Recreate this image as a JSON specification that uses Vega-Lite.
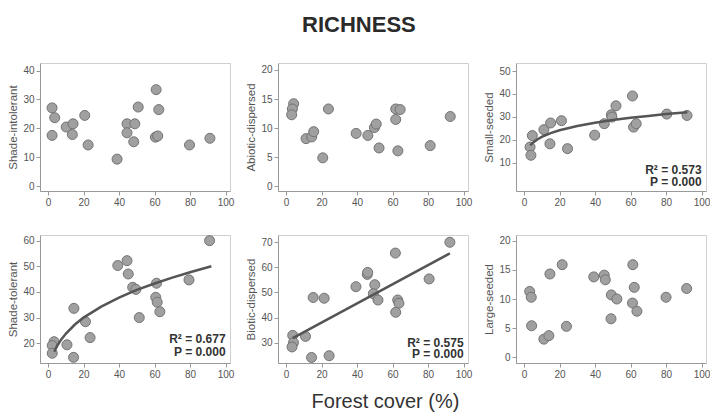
{
  "$schema": "https://vega.github.io/schema/vega-lite/v6.json",
  "padding": {"left": 7, "top": 13, "right": 2, "bottom": 2},
  "background": "white",
  "title": {"text": "RICHNESS", "fontSize": 22, "fontWeight": "bold", "color": "#2a2a2a", "font": "Liberation Sans", "anchor": "middle", "offset": 26},
  "datasets": {
    "p1": [{"cover":2.3,"richness":27.1},{"cover":3.8,"richness":23.7},{"cover":2.3,"richness":17.6},{"cover":10.3,"richness":20.5},{"cover":14.1,"richness":21.6},{"cover":13.7,"richness":17.9},{"cover":20.7,"richness":24.5},{"cover":22.6,"richness":14.3},{"cover":38.9,"richness":9.4},{"cover":44.5,"richness":21.6},{"cover":44.5,"richness":18.5},{"cover":48.9,"richness":21.6},{"cover":48.3,"richness":15.4},{"cover":50.8,"richness":27.4},{"cover":60.9,"richness":33.4},{"cover":62.4,"richness":26.5},{"cover":60.5,"richness":17.0},{"cover":61.8,"richness":17.4},{"cover":79.7,"richness":14.3},{"cover":91.2,"richness":16.6}],
    "p2": [{"cover":4.3,"richness":14.2},{"cover":3.6,"richness":13.3},{"cover":3.2,"richness":12.3},{"cover":23.9,"richness":13.3},{"cover":11.3,"richness":8.2},{"cover":14.5,"richness":8.5},{"cover":15.6,"richness":9.4},{"cover":20.7,"richness":4.9},{"cover":39.5,"richness":9.1},{"cover":46.1,"richness":8.75},{"cover":49.8,"richness":10.1},{"cover":50.8,"richness":10.7},{"cover":52.4,"richness":6.6},{"cover":61.8,"richness":13.3},{"cover":64.3,"richness":13.2},{"cover":61.8,"richness":11.5},{"cover":63.0,"richness":6.1},{"cover":81.2,"richness":7.0},{"cover":92.5,"richness":12.0}],
    "p3": [{"cover":3.4,"richness":16.8},{"cover":3.9,"richness":13.2},{"cover":4.7,"richness":21.8},{"cover":11.2,"richness":24.4},{"cover":15.0,"richness":27.3},{"cover":14.6,"richness":18.2},{"cover":21.1,"richness":28.3},{"cover":24.5,"richness":16.1},{"cover":39.8,"richness":22.0},{"cover":45.2,"richness":27.0},{"cover":49.2,"richness":30.9},{"cover":49.5,"richness":29.9},{"cover":51.8,"richness":34.8},{"cover":61.1,"richness":39.1},{"cover":61.7,"richness":25.5},{"cover":63.2,"richness":27.0},{"cover":80.4,"richness":31.2},{"cover":91.8,"richness":30.6}],
    "p4": [{"cover":3.4,"richness":20.6},{"cover":2.4,"richness":19.1},{"cover":2.4,"richness":16.1},{"cover":10.7,"richness":19.4},{"cover":14.4,"richness":14.5},{"cover":14.6,"richness":33.6},{"cover":21.1,"richness":28.4},{"cover":23.7,"richness":22.2},{"cover":39.3,"richness":50.3},{"cover":44.5,"richness":52.2},{"cover":45.2,"richness":47.0},{"cover":47.7,"richness":41.8},{"cover":49.5,"richness":41.0},{"cover":51.4,"richness":30.0},{"cover":61.1,"richness":43.4},{"cover":60.7,"richness":37.9},{"cover":61.5,"richness":36.0},{"cover":63.0,"richness":32.3},{"cover":79.4,"richness":44.7},{"cover":91.0,"richness":60.0}],
    "p5": [{"cover":3.8,"richness":32.9},{"cover":4.2,"richness":30.0},{"cover":3.4,"richness":28.3},{"cover":11.0,"richness":32.5},{"cover":14.4,"richness":24.1},{"cover":15.3,"richness":48.0},{"cover":21.5,"richness":47.7},{"cover":24.3,"richness":24.8},{"cover":39.4,"richness":52.3},{"cover":45.8,"richness":57.2},{"cover":46.0,"richness":58.0},{"cover":50.0,"richness":53.1},{"cover":49.2,"richness":49.5},{"cover":51.8,"richness":47.0},{"cover":61.6,"richness":65.7},{"cover":62.9,"richness":47.0},{"cover":63.6,"richness":45.7},{"cover":61.8,"richness":42.1},{"cover":80.6,"richness":55.4},{"cover":92.3,"richness":70.0}],
    "p6": [{"cover":3.2,"richness":11.3},{"cover":4.1,"richness":10.3},{"cover":4.3,"richness":5.4},{"cover":11.2,"richness":3.1},{"cover":14.0,"richness":3.7},{"cover":14.6,"richness":14.3},{"cover":21.5,"richness":15.9},{"cover":23.9,"richness":5.3},{"cover":39.3,"richness":13.8},{"cover":45.2,"richness":14.1},{"cover":45.8,"richness":13.3},{"cover":49.0,"richness":6.6},{"cover":49.2,"richness":10.7},{"cover":52.3,"richness":10.0},{"cover":61.3,"richness":15.9},{"cover":62.1,"richness":12.0},{"cover":61.1,"richness":9.3},{"cover":63.6,"richness":7.9},{"cover":80.0,"richness":10.3},{"cover":91.6,"richness":11.8}],
    "f3": [{"cover":3.5,"richness":17.5},{"cover":5,"richness":18.7},{"cover":7.5,"richness":20.1},{"cover":10,"richness":21.2},{"cover":15,"richness":22.9},{"cover":20,"richness":24.1},{"cover":30,"richness":26.0},{"cover":40,"richness":27.4},{"cover":50,"richness":28.6},{"cover":60,"richness":29.6},{"cover":70,"richness":30.4},{"cover":80,"richness":31.2},{"cover":92,"richness":32.0}],
    "f4": [{"cover":3.5,"richness":16.7},{"cover":5,"richness":18.8},{"cover":7.5,"richness":21.5},{"cover":10,"richness":23.7},{"cover":15,"richness":27.2},{"cover":20,"richness":30.0},{"cover":30,"richness":34.3},{"cover":40,"richness":37.8},{"cover":50,"richness":40.8},{"cover":60,"richness":43.3},{"cover":70,"richness":45.6},{"cover":80,"richness":47.7},{"cover":92,"richness":50.0}],
    "f5": [{"cover":3.8,"richness":31.8},{"cover":92.3,"richness":65.6}],
    "a3": [{"stat":"R² = 0.573","p":"P = 0.000"}],
    "a4": [{"stat":"R² = 0.677","p":"P = 0.000"}],
    "a5": [{"stat":"R² = 0.575","p":"P = 0.000"}]
  },
  "config": {
    "font": "Liberation Sans",
    "view": {"stroke": "#cfcfcf", "strokeWidth": 1},
    "axis": {"grid": false, "labelOverlap": false, "labelFont": "Liberation Sans", "labelFontSize": 10, "labelColor": "#555", "titleFont": "Liberation Sans", "titleFontSize": 11.5, "titleFontWeight": "normal", "titleColor": "#555", "domainColor": "#999", "tickColor": "#999", "tickSize": 4, "labelPadding": 2, "titlePadding": 4},
    "point": {"filled": true, "size": 100, "color": "#a0a0a0", "stroke": "#737373", "strokeWidth": 1, "opacity": 1},
    "line": {"color": "#555", "strokeWidth": 2.5}
  },
  "spacing": 25,
  "vconcat": [
    {
      "bounds": "flush",
      "spacing": 48,
      "hconcat": [
        {
          "width": 190, "height": 128,
          "data": {"name": "p1"},
          "mark": {"type": "point"},
          "encoding": {
            "x": {"field": "cover", "type": "quantitative", "scale": {"domain": [-4.5, 102.5], "nice": false, "zero": false}, "axis": {"values": [0, 20, 40, 60, 80, 100], "title": null}},
            "y": {"field": "richness", "type": "quantitative", "scale": {"domain": [-1.6, 42.6], "nice": false, "zero": false}, "axis": {"values": [0, 10, 20, 30, 40], "title": "Shade-intolerant"}}
          }
        },
        {
          "width": 190, "height": 128,
          "data": {"name": "p2"},
          "mark": {"type": "point"},
          "encoding": {
            "x": {"field": "cover", "type": "quantitative", "scale": {"domain": [-4.5, 102.5], "nice": false, "zero": false}, "axis": {"values": [0, 20, 40, 60, 80, 100], "title": null}},
            "y": {"field": "richness", "type": "quantitative", "scale": {"domain": [-0.8, 21.2], "nice": false, "zero": false}, "axis": {"values": [0, 5, 10, 15, 20], "title": "Abiotic-dispersed"}}
          }
        },
        {
          "width": 190, "height": 128,
          "resolve": {"axis": {"x": "independent", "y": "independent"}},
          "layer": [
            {"data": {"name": "p3"}, "mark": {"type": "point"},
             "encoding": {
              "x": {"field": "cover", "type": "quantitative", "scale": {"domain": [-4.5, 102.5], "nice": false, "zero": false}, "axis": {"values": [0, 20, 40, 60, 80, 100], "title": null}},
              "y": {"field": "richness", "type": "quantitative", "scale": {"domain": [-2.4, 53.5], "nice": false, "zero": false}, "axis": {"values": [10, 20, 30, 40, 50], "title": "Small-seeded"}}}},
            {"data": {"name": "f3"}, "mark": {"type": "line"},
             "encoding": {
              "x": {"field": "cover", "type": "quantitative", "axis": null},
              "y": {"field": "richness", "type": "quantitative", "axis": null}}},
            {"data": {"name": "a3"}, "mark": {"type": "text", "align": "right", "baseline": "middle", "fontSize": 12, "fontWeight": "bold", "color": "#333"},
             "encoding": {"x": {"datum": 100, "type": "quantitative", "axis": null}, "y": {"datum": 6.8, "type": "quantitative", "axis": null}, "text": {"field": "stat", "type": "nominal"}}},
            {"data": {"name": "a3"}, "mark": {"type": "text", "align": "right", "baseline": "middle", "fontSize": 12, "fontWeight": "bold", "color": "#333"},
             "encoding": {"x": {"datum": 100, "type": "quantitative", "axis": null}, "y": {"datum": 1.4, "type": "quantitative", "axis": null}, "text": {"field": "p", "type": "nominal"}}}
          ]
        }
      ]
    },
    {
      "bounds": "flush",
      "spacing": 48,
      "hconcat": [
        {
          "width": 190, "height": 128,
          "resolve": {"axis": {"x": "independent", "y": "independent"}},
          "layer": [
            {"data": {"name": "p4"}, "mark": {"type": "point"},
             "encoding": {
              "x": {"field": "cover", "type": "quantitative", "scale": {"domain": [-4.5, 102.5], "nice": false, "zero": false}, "axis": {"values": [0, 20, 40, 60, 80, 100], "title": null}},
              "y": {"field": "richness", "type": "quantitative", "scale": {"domain": [12.3, 62.2], "nice": false, "zero": false}, "axis": {"values": [20, 30, 40, 50, 60], "title": "Shade-tolerant"}}}},
            {"data": {"name": "f4"}, "mark": {"type": "line"},
             "encoding": {
              "x": {"field": "cover", "type": "quantitative", "axis": null},
              "y": {"field": "richness", "type": "quantitative", "axis": null}}},
            {"data": {"name": "a4"}, "mark": {"type": "text", "align": "right", "baseline": "middle", "fontSize": 12, "fontWeight": "bold", "color": "#333"},
             "encoding": {"x": {"datum": 100, "type": "quantitative", "axis": null}, "y": {"datum": 21.7, "type": "quantitative", "axis": null}, "text": {"field": "stat", "type": "nominal"}}},
            {"data": {"name": "a4"}, "mark": {"type": "text", "align": "right", "baseline": "middle", "fontSize": 12, "fontWeight": "bold", "color": "#333"},
             "encoding": {"x": {"datum": 100, "type": "quantitative", "axis": null}, "y": {"datum": 16.6, "type": "quantitative", "axis": null}, "text": {"field": "p", "type": "nominal"}}}
          ]
        },
        {
          "width": 190, "height": 128,
          "resolve": {"axis": {"x": "independent", "y": "independent"}},
          "layer": [
            {"data": {"name": "p5"}, "mark": {"type": "point"},
             "encoding": {
              "x": {"field": "cover", "type": "quantitative", "scale": {"domain": [-4.5, 102.5], "nice": false, "zero": false}, "axis": {"values": [0, 20, 40, 60, 80, 100], "title": "Forest cover (%)", "titleFontSize": 20, "titleColor": "#333", "titlePadding": 12, "titleX": 107}},
              "y": {"field": "richness", "type": "quantitative", "scale": {"domain": [21.9, 72.9], "nice": false, "zero": false}, "axis": {"values": [30, 40, 50, 60, 70], "title": "Biotic-dispersed"}}}},
            {"data": {"name": "f5"}, "mark": {"type": "line"},
             "encoding": {
              "x": {"field": "cover", "type": "quantitative", "axis": null},
              "y": {"field": "richness", "type": "quantitative", "axis": null}}},
            {"data": {"name": "a5"}, "mark": {"type": "text", "align": "right", "baseline": "middle", "fontSize": 12, "fontWeight": "bold", "color": "#333"},
             "encoding": {"x": {"datum": 100, "type": "quantitative", "axis": null}, "y": {"datum": 29.8, "type": "quantitative", "axis": null}, "text": {"field": "stat", "type": "nominal"}}},
            {"data": {"name": "a5"}, "mark": {"type": "text", "align": "right", "baseline": "middle", "fontSize": 12, "fontWeight": "bold", "color": "#333"},
             "encoding": {"x": {"datum": 100, "type": "quantitative", "axis": null}, "y": {"datum": 25.5, "type": "quantitative", "axis": null}, "text": {"field": "p", "type": "nominal"}}}
          ]
        },
        {
          "width": 190, "height": 128,
          "data": {"name": "p6"},
          "mark": {"type": "point"},
          "encoding": {
            "x": {"field": "cover", "type": "quantitative", "scale": {"domain": [-4.5, 102.5], "nice": false, "zero": false}, "axis": {"values": [0, 20, 40, 60, 80, 100], "title": null}},
            "y": {"field": "richness", "type": "quantitative", "scale": {"domain": [-1, 21], "nice": false, "zero": false}, "axis": {"values": [0, 5, 10, 15, 20], "title": "Large-seeded"}}
          }
        }
      ]
    }
  ]
}
